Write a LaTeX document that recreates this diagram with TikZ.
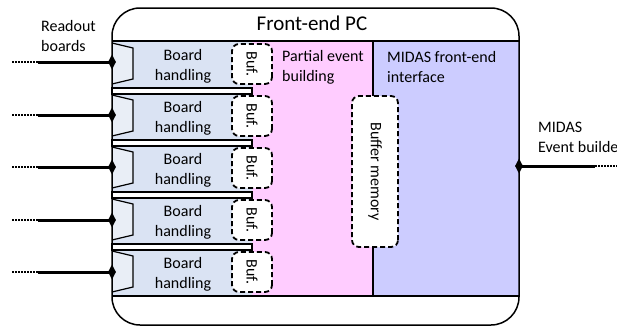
\documentclass[tikz,border=0pt]{standalone}
\usepackage{fontspec}
\setmainfont{Carlito}
\usetikzlibrary{shapes.geometric}
\definecolor{rowblue}{HTML}{DAE3F3}
\definecolor{trapfill}{HTML}{E9EEF6}
\definecolor{pinkbg}{HTML}{FFCCFF}
\definecolor{lavbg}{HTML}{CCCCFF}
\tikzset{
  rowbox/.style={fill=rowblue, draw=none, minimum width=140pt, minimum height=46pt, inner sep=0pt},
  stripbox/.style={draw, fill=white, line width=1.2pt},
  trap/.style={draw, fill=trapfill, line width=1.2pt},
  bufbox/.style={draw, fill=white, line width=1.8pt, dash pattern=on 5pt off 3pt, rounded corners=7pt, inner sep=0pt, font=\fontsize{16}{20}\selectfont},
  lbl/.style={font=\fontsize{16}{20}\selectfont, inner sep=0pt},
  dmd/.style={diamond, fill=black, draw=none, inner sep=0pt, minimum width=8pt, minimum height=15pt},
  wire/.style={line width=3pt},
  dotwire/.style={line width=1.6pt, dash pattern=on 1.5pt off 1.5pt},
  frameline/.style={line width=1.5pt}
}
\begin{document}
\begin{tikzpicture}[x=1pt,y=-1pt]
\useasboundingbox (0,0) rectangle (617,327);
\coordinate (hdr) at (0,41);
\coordinate (ftr) at (0,296);
% backgrounds
\fill[pinkbg] (252,41) rectangle (373,296);
\fill[lavbg] (373,41) rectangle (519,296);
% rows
\foreach \i/\c in {1/65,2/117,3/169,4/221,5/273}{
  \node[rowbox] (r\i) at (182,\c) {};
  \path[trap] (112,\c-22) -- (133,\c-17) -- (133,\c+14) -- (112,\c+19);
  \node[lbl, align=center] (t\i) at (183,\c+1) {Board\\handling};
  \node[bufbox, rotate=-90, minimum width=40pt, minimum height=40pt] (b\i) at (252,\c-1) {Buf.};
}
% strips
\foreach \y in {88,140,192,244}{
  \draw[stripbox] (112,\y) rectangle (252,\y+6);
}
% buffer memory
\node[bufbox, rotate=-90, minimum width=151pt, minimum height=46pt] (bm) at (375,171.5) {Buffer memory};
\coordinate (bmtop) at (373,96);
\coordinate (bmbot) at (373,247);
\draw[frameline] (bmtop) -- (bmtop |- hdr);
\draw[frameline] (bmbot) -- (bmbot |- ftr);
% texts
\node[lbl, align=left, anchor=west] (pe) at (282,67) {Partial event\\building};
\node[lbl, align=left, anchor=west] (mi) at (387,67) {MIDAS front-end\\interface};
\node[font=\fontsize{21}{25}\selectfont, inner sep=0pt] (title) at (312,23) {Front-end PC};
\node[lbl, align=left, anchor=west] (ro) at (41,36) {Readout\\boards};
\node[lbl, align=left, anchor=west] (eb) at (538,137) {MIDAS\\Event builder};
% frame
\node[draw, frameline, rounded corners=28pt, minimum width=407pt, minimum height=317pt, inner sep=0pt] (frame) at (315.5,166.5) {};
\draw[frameline] (112,41) -- (519,41);
\draw[frameline] (112,296) -- (519,296);
% inputs
\foreach \i/\y in {1/62,2/115,3/167,4/220,5/272}{
  \node[dmd] (d\i) at (112,\y) {};
  \coordinate (l\i) at (12,\y);
  \coordinate (m\i) at (38,\y);
  \draw[dotwire] (l\i) -- (m\i);
  \draw[wire] (m\i) -- (d\i.center);
}
% output
\node[dmd] (dout) at (519,166) {};
\coordinate (mo) at (595,166);
\coordinate (lo) at (617,166);
\draw[wire] (dout.center) -- (mo);
\draw[dotwire] (mo) -- (lo);
\end{tikzpicture}
\end{document}
